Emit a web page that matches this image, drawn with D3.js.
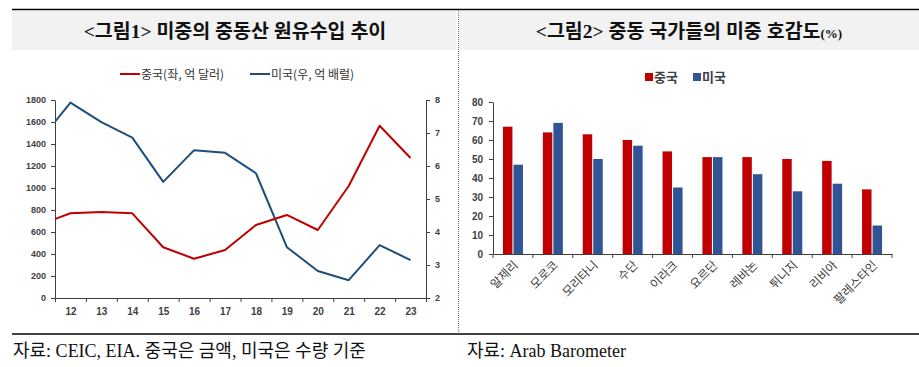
<!DOCTYPE html>
<html>
<head>
<meta charset="utf-8">
<script src="https://cdn.jsdelivr.net/npm/d3@7"></script>
<style>
  body { margin: 0; background: #fff; }
  svg { display: block; }
  .tick text { font-family: "Liberation Sans", Arial, sans-serif; font-weight: bold; fill: #404040; }
</style>
</head>
<body>
<svg id="chart" width="919" height="367"></svg>
<script>
// 그림1: 미중의 중동산 원유수입 추이 (year 11 is only there so the line runs off the left edge)
const years = [11, 12, 13, 14, 15, 16, 17, 18, 19, 20, 21, 22, 23];
const chinaImport = [666, 770, 782, 770, 461, 357, 436, 664, 755, 618, 1018, 1566, 1273]; // 억 달러 (좌)
const usImport = [6.76, 7.92, 7.33, 6.86, 5.52, 6.48, 6.40, 5.78, 3.54, 2.82, 2.54, 3.60, 3.15]; // 억 배럴 (우)
const leftTicks = [0, 200, 400, 600, 800, 1000, 1200, 1400, 1600, 1800];
const rightTicks = [2, 3, 4, 5, 6, 7, 8];

// 그림2: 중동 국가들의 미중 호감도(%)
const countries = ["알제리", "모로코", "모리타니", "수단", "이라크", "요르단", "레바논", "튀니지", "리비아", "팔레스타인"];
const chinaFav = [67, 64, 63, 60, 54, 51, 51, 50, 49, 34];
const usFav = [47, 69, 50, 57, 35, 51, 42, 33, 37, 15];
const favTicks = [0, 10, 20, 30, 40, 50, 60, 70, 80];

const RED = "#c00000", BLUE1 = "#1f4e79", BLUE2 = "#2f5597";
const svg = d3.select("#chart");
const fmt = d3.format("d");

// frame: rules, title boxes, divider
svg.append("line").attr("x1", 12).attr("x2", 919).attr("y1", 9.5).attr("y2", 9.5)
  .attr("stroke", "#000").attr("stroke-width", 1.5);
svg.append("line").attr("x1", 12).attr("x2", 919).attr("y1", 334).attr("y2", 334)
  .attr("stroke", "#000").attr("stroke-width", 1.5);
svg.append("rect").attr("x", 12).attr("y", 11).attr("width", 444).attr("height", 39).attr("fill", "#f2f2f2");
svg.append("rect").attr("x", 459).attr("y", 11).attr("width", 460).attr("height", 39).attr("fill", "#f2f2f2");
svg.append("line").attr("x1", 458.5).attr("x2", 458.5).attr("y1", 11).attr("y2", 333)
  .attr("stroke", "#777").attr("stroke-dasharray", "1,1");

const titleFont = "'Liberation Serif', 'Noto Sans CJK KR', serif";
svg.append("text").attr("x", 235).attr("y", 37.5).attr("text-anchor", "middle")
  .style("font-family", titleFont).style("font-weight", "bold").style("font-size", "19.5px")
  .attr("fill", "#111").text("<그림1> 미중의 중동산 원유수입 추이");
const t2 = svg.append("text").attr("x", 689).attr("y", 37.5).attr("text-anchor", "middle")
  .style("font-family", titleFont).style("font-weight", "bold").style("font-size", "19.5px").attr("fill", "#111");
t2.append("tspan").text("<그림2> 중동 국가들의 미중 호감도");
t2.append("tspan").style("font-size", "13px").text("(%)");

const noteFont = "'Liberation Serif', 'Noto Sans CJK KR', serif";
svg.append("text").attr("x", 13).attr("y", 357).style("font-family", noteFont).style("font-size", "18px")
  .attr("fill", "#111").text("자료: CEIC, EIA. 중국은 금액, 미국은 수량 기준");
svg.append("text").attr("x", 467).attr("y", 357).style("font-family", noteFont).style("font-size", "18px")
  .attr("fill", "#111").text("자료: Arab Barometer");

// ---------- left chart ----------
const L = { left: 55, right: 426, top: 100, bottom: 298 };
const x = d3.scaleLinear().domain([11.5, 23.5]).range([L.left, L.right]);
const yL = d3.scaleLinear().domain([0, 1800]).range([L.bottom, L.top]);
const yR = d3.scaleLinear().domain([2, 8]).range([L.bottom, L.top]);

const g1 = svg.append("g");
const styleAxis = sel => {
  sel.select(".domain").attr("stroke", "#404040");
  sel.selectAll(".tick line").attr("stroke", "#404040");
};

g1.append("g").attr("transform", `translate(${L.left},0)`)
  .call(d3.axisLeft(yL).tickValues(leftTicks).tickFormat(fmt).tickSize(4).tickSizeOuter(0).tickPadding(5))
  .call(styleAxis).selectAll("text").style("font-size", "9px");
g1.append("g").attr("transform", `translate(${L.right},0)`)
  .call(d3.axisRight(yR).tickValues(rightTicks).tickFormat(fmt).tickSize(4).tickSizeOuter(0).tickPadding(5))
  .call(styleAxis).selectAll("text").style("font-size", "9px");

const bounds = d3.range(11.5, 23.6, 1);
g1.append("g").attr("transform", `translate(0,${L.bottom})`)
  .call(d3.axisBottom(x).tickValues(bounds).tickFormat("").tickSize(4).tickSizeOuter(0))
  .call(styleAxis);
g1.append("g").attr("transform", `translate(0,${L.bottom})`)
  .call(d3.axisBottom(x).tickValues(years.slice(1)).tickFormat(fmt).tickSize(0).tickPadding(10))
  .call(g => g.select(".domain").remove())
  .selectAll("text").style("font-size", "10px");

svg.append("clipPath").attr("id", "clipL").append("rect")
  .attr("x", L.left).attr("y", L.top - 10).attr("width", L.right - L.left).attr("height", L.bottom - L.top + 10);

const lineL = d3.line().x((d, i) => x(years[i])).y(d => yL(d));
const lineR = d3.line().x((d, i) => x(years[i])).y(d => yR(d));
g1.append("path").datum(usImport).attr("d", lineR).attr("clip-path", "url(#clipL)")
  .attr("fill", "none").attr("stroke", BLUE1).attr("stroke-width", 2).attr("stroke-linejoin", "round");
g1.append("path").datum(chinaImport).attr("d", lineL).attr("clip-path", "url(#clipL)")
  .attr("fill", "none").attr("stroke", RED).attr("stroke-width", 2).attr("stroke-linejoin", "round");

const legFont = "'Noto Sans CJK KR', sans-serif";
const legL = [
  { name: "중국(좌, 억 달러)", color: RED, x: 120 },
  { name: "미국(우, 억 배럴)", color: BLUE1, x: 250 }
];
legL.forEach(d => {
  g1.append("line").attr("x1", d.x).attr("x2", d.x + 20).attr("y1", 74).attr("y2", 74)
    .attr("stroke", d.color).attr("stroke-width", 2);
  g1.append("text").attr("x", d.x + 21).attr("y", 78.5).style("font-family", legFont)
    .style("font-size", "12px").attr("fill", "#333").text(d.name);
});

// ---------- right chart ----------
const R = { left: 493, right: 892, top: 102, bottom: 254 };
const x0 = d3.scaleBand().domain(countries).range([R.left, R.right]);
const x1 = d3.scaleBand().domain(["중국", "미국"]).range([0, 20]).paddingInner(0.1);
const y2 = d3.scaleLinear().domain([0, 80]).range([R.bottom, R.top]);

const g2 = svg.append("g");
g2.append("g").attr("transform", `translate(${R.left},0)`)
  .call(d3.axisLeft(y2).tickValues(favTicks).tickFormat(fmt).tickSize(4).tickSizeOuter(0).tickPadding(6))
  .call(styleAxis).selectAll("text").style("font-size", "10px");

const off = x0.bandwidth() / 2 - 10;
const series = [
  { key: "중국", values: chinaFav, color: RED },
  { key: "미국", values: usFav, color: BLUE2 }
];
series.forEach(s => {
  g2.selectAll(null).data(countries).enter().append("rect")
    .attr("x", d => x0(d) + off + x1(s.key))
    .attr("y", (d, i) => y2(s.values[i]))
    .attr("width", x1.bandwidth())
    .attr("height", (d, i) => R.bottom - y2(s.values[i]))
    .attr("fill", s.color);
});

g2.append("g").attr("transform", `translate(0,${R.bottom})`)
  .call(d3.axisBottom(x0).tickValues(d3.range(countries.length + 1)).tickSize(4).tickSizeOuter(0))
  .call(g => {
    g.selectAll(".tick").attr("transform", d => `translate(${R.left + d * x0.bandwidth()},0)`);
    g.selectAll(".tick text").remove();
  })
  .call(styleAxis);

g2.append("g").selectAll("text").data(countries).enter().append("text")
  .attr("transform", d => `translate(${x0(d) + x0.bandwidth() / 2 + 3},${R.bottom + 9}) rotate(-45)`)
  .attr("text-anchor", "end").attr("dy", "0.35em")
  .style("font-family", legFont).style("font-size", "12px").attr("fill", "#404040").text(d => d);

const legR = [
  { name: "중국", color: RED, x: 645 },
  { name: "미국", color: BLUE2, x: 693 }
];
legR.forEach(d => {
  g2.append("rect").attr("x", d.x).attr("y", 73).attr("width", 8).attr("height", 8).attr("fill", d.color);
  g2.append("text").attr("x", d.x + 9).attr("y", 82).style("font-family", legFont)
    .style("font-size", "13px").style("font-weight", "bold").attr("fill", "#404040").text(d.name);
});
</script>
</body>
</html>
